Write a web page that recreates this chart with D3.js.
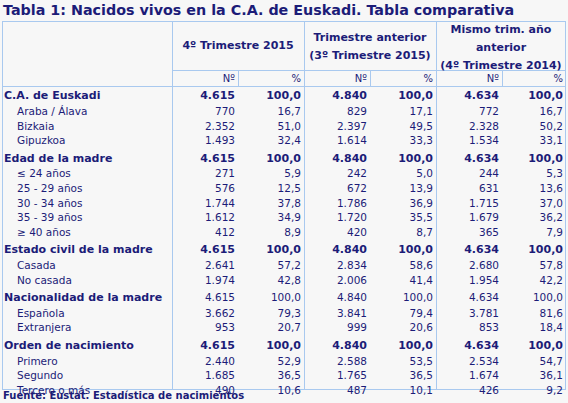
<!DOCTYPE html>
<html><head><meta charset="utf-8">
<script src="https://cdn.jsdelivr.net/npm/d3@7"></script>
<style>body{margin:0;background:#f7f7f7}</style>
</head><body>
<script>
// Table data
const title = "Tabla 1: Nacidos vivos en la C.A. de Euskadi. Tabla comparativa";
const source = "Fuente: Eustat. Estadística de nacimientos";
const groups = [["4º Trimestre 2015"], ["Trimestre anterior", "(3º Trimestre 2015)"], ["Mismo trim. año", "anterior", "(4º Trimestre 2014)"]];
const subHeads = ["Nº", "%"];
const rowLabels = ["C.A. de Euskadi", "Araba / Álava", "Bizkaia", "Gipuzkoa", "Edad de la madre", "≤ 24 años", "25 - 29 años", "30 - 34 años", "35 - 39 años", "≥ 40 años", "Estado civil de la madre", "Casada", "No casada", "Nacionalidad de la madre", "Española", "Extranjera", "Orden de nacimiento", "Primero", "Segundo", "Tercero o más"];
const heading = [1, 0, 0, 0, 1, 0, 0, 0, 0, 0, 1, 0, 0, 1, 0, 0, 1, 0, 0, 0];
const boldValues = [1, 0, 0, 0, 1, 0, 0, 0, 0, 0, 1, 0, 0, 0, 0, 0, 1, 0, 0, 0];
const values = [
  ["4.615", "100,0", "4.840", "100,0", "4.634", "100,0"],
  ["770", "16,7", "829", "17,1", "772", "16,7"],
  ["2.352", "51,0", "2.397", "49,5", "2.328", "50,2"],
  ["1.493", "32,4", "1.614", "33,3", "1.534", "33,1"],
  ["4.615", "100,0", "4.840", "100,0", "4.634", "100,0"],
  ["271", "5,9", "242", "5,0", "244", "5,3"],
  ["576", "12,5", "672", "13,9", "631", "13,6"],
  ["1.744", "37,8", "1.786", "36,9", "1.715", "37,0"],
  ["1.612", "34,9", "1.720", "35,5", "1.679", "36,2"],
  ["412", "8,9", "420", "8,7", "365", "7,9"],
  ["4.615", "100,0", "4.840", "100,0", "4.634", "100,0"],
  ["2.641", "57,2", "2.834", "58,6", "2.680", "57,8"],
  ["1.974", "42,8", "2.006", "41,4", "1.954", "42,2"],
  ["4.615", "100,0", "4.840", "100,0", "4.634", "100,0"],
  ["3.662", "79,3", "3.841", "79,4", "3.781", "81,6"],
  ["953", "20,7", "999", "20,6", "853", "18,4"],
  ["4.615", "100,0", "4.840", "100,0", "4.634", "100,0"],
  ["2.440", "52,9", "2.588", "53,5", "2.534", "54,7"],
  ["1.685", "36,5", "1.765", "36,5", "1.674", "36,1"],
  ["490", "10,6", "487", "10,1", "426", "9,2"]
];

const W = 568, H = 403, ink = "#1c1c78", line = "#a9c9ef";
const font = "Verdana, 'DejaVu Sans', sans-serif";
const svg = d3.select("body").append("svg").attr("width", W).attr("height", H)
  .style("font-family", font).style("fill", ink);

const colX = [172, 238, 304, 370, 436, 502, 566];
const tableLeft = 2, tableTop = 21, headBottom = 70, subBottom = 86;

// row positions (cumulative)
let ys = [], y = subBottom + 1;
rowLabels.forEach((r, i) => { const h = heading[i] ? 16.6 : 14.6; if (heading[i] && i > 0) y += 2; ys.push(y + h / 2 + 4); y += h; });
const tableBottom = 389;

svg.append("text").attr("x", 3).attr("y", 15).attr("font-size", 14.3).attr("font-weight", "bold").text(title);

const g = svg.append("g").attr("stroke", line).attr("fill", "none");
g.append("rect").attr("x", tableLeft + 0.5).attr("y", tableTop + 0.5).attr("width", colX[6] - tableLeft - 1).attr("height", tableBottom - tableTop);
[0, 2, 4].forEach(i => g.append("line").attr("x1", colX[i] + 0.5).attr("x2", colX[i] + 0.5).attr("y1", tableTop).attr("y2", tableBottom));
[1, 3, 5].forEach(i => g.append("line").attr("x1", colX[i] + 0.5).attr("x2", colX[i] + 0.5).attr("y1", headBottom).attr("y2", subBottom));
g.append("line").attr("x1", colX[0]).attr("x2", colX[6]).attr("y1", headBottom + 0.5).attr("y2", headBottom + 0.5);
g.append("line").attr("x1", tableLeft).attr("x2", colX[6]).attr("y1", subBottom + 0.5).attr("y2", subBottom + 0.5);

groups.forEach((lines, gi) => {
  const cx = (colX[gi * 2] + colX[gi * 2 + 2]) / 2;
  const start = lines.length === 1 ? 49 : lines.length === 2 ? 41 : 33;
  lines.forEach((t, li) => svg.append("text").attr("x", cx).attr("y", start + li * 18)
    .attr("text-anchor", "middle").attr("font-size", 11).attr("font-weight", "bold").text(t));
});
for (let c = 0; c < 6; c++)
  svg.append("text").attr("x", colX[c + 1] - 3).attr("y", subBottom - 4).attr("text-anchor", "end")
    .attr("font-size", 10).text(subHeads[c % 2]);

rowLabels.forEach((r, i) => {
  svg.append("text").attr("x", heading[i] ? 4 : 17).attr("y", ys[i]).attr("font-size", heading[i] ? 11 : 10.5)
    .attr("font-weight", heading[i] ? "bold" : "normal").text(r);
  values[i].forEach((v, c) => svg.append("text").attr("x", colX[c + 1] - 3).attr("y", ys[i])
    .attr("text-anchor", "end").attr("font-size", boldValues[i] ? 11 : 10.5)
    .attr("font-weight", boldValues[i] ? "bold" : "normal").text(v));
});

svg.append("text").attr("x", 3).attr("y", 399).attr("font-size", 10).attr("font-weight", "bold").text(source);
</script>
</body></html>
